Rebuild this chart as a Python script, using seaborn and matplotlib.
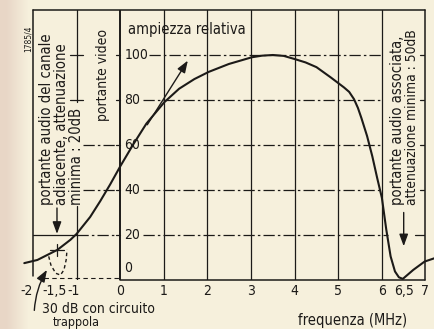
import numpy as np
import pandas as pd
import matplotlib
matplotlib.use("Agg")
import matplotlib.pyplot as plt
from matplotlib import font_manager
import seaborn as sns

# Video IF response: frequency (MHz) vs relative amplitude (%)
freq = [-2.2, -1.9, -1.44, -1.14, -1.0, -0.69, -0.46, -0.23, 0.0, 0.29, 0.60,
        1.01, 1.35, 1.7, 2.03, 2.49, 3.02, 3.25, 3.5, 3.75, 4.0, 4.25, 4.5,
        4.83, 5.13, 5.25, 5.36, 5.45, 5.53, 5.66, 5.78, 5.89, 6.0, 6.1, 6.2,
        6.3, 6.39, 6.48, 6.6, 6.72, 6.98, 7.21]
ampl = [7.5, 8.9, 13.4, 17.9, 20.5, 28.0, 35.0, 42.5, 50.5, 60.0, 69.5,
        79.0, 85.0, 89.3, 92.5, 96.0, 99.0, 99.7, 100.0, 99.6, 98.2, 96.7, 94.6,
        90.0, 85.6, 83.6, 80.4, 76.5, 72.0, 64.0, 55.0, 45.5, 36.5, 22.5, 10.5,
        3.8, 1.2, 0.5, 2.5, 4.5, 8.2, 9.7]

# notch obtained with the trap circuit (dashed)
trap_freq = [-1.64, -1.59, -1.48, -1.37, -1.29, -1.24, -1.22]
trap_ampl = [10.5, 6.7, 3.0, 2.2, 4.5, 8.9, 13.4]

x_ticks = [-2, -1.5, -1, 0, 1, 2, 3, 4, 5, 6, 6.5, 7]
x_labels = ["-2", "-1,5", "-1", "0", "1", "2", "3", "4", "5", "6", "6,5", "7"]
y_ticks = [0, 20, 40, 60, 80, 100]
y_labels = ["0", "20", "40", "60", "80", "100"]
v_grid = [1, 2, 3, 4, 5, 6]

INK = "#1c1a18"
PAPER = (246, 240, 220)

sns.set_theme(style="white")
names = {f.name for f in font_manager.fontManager.ttflist}
if "Liberation Sans Narrow" in names:
    FONT, STRETCH = "Liberation Sans Narrow", "normal"
else:
    FONT, STRETCH = "DejaVu Sans", "condensed"
plt.rcParams["font.family"] = [FONT, "DejaVu Sans"]
plt.rcParams["font.stretch"] = STRETCH

fig = plt.figure(figsize=(4.35, 3.29), dpi=100)

# paper tone, a little darker along the left edge
bg = fig.add_axes([0, 0, 1, 1], zorder=-10)
bg.axis("off")
cols = np.arange(435)
t = np.clip((cols - 6) / 22.0, 0, 1)[None, :, None]
left = np.array([232, 214, 198])[None, None, :]
right = np.array(PAPER)[None, None, :]
img = (left * (1 - t) + right * t) / 255.0
bg.imshow(np.repeat(img, 2, axis=0), aspect="auto", extent=[0, 1, 0, 1])

ax = fig.add_axes([33 / 435, 49 / 329, 392.5 / 435, 270 / 329])
ax.set_facecolor("none")
ax.set_xlim(-2, 7)
ax.set_ylim(0, 120)
for s in ax.spines.values():
    s.set_visible(False)
ax.set_xticks([])
ax.set_yticks([])

lw_frame = 1.1
lw_grid = 0.9
dash = (0, (9, 2.5, 2, 2.5))

# frame
ax.plot([-2, 7], [120, 120], color=INK, lw=lw_frame, clip_on=False)
ax.plot([7, 7], [0, 120], color=INK, lw=lw_frame, clip_on=False)
ax.plot([-2, -2], [2, 120], color=INK, lw=lw_frame, clip_on=False)
ax.plot([0, 7], [0, 0], color=INK, lw=lw_frame, clip_on=False)
ax.plot([-1.75, 0], [1, 1], color=INK, lw=0.8, ls=(0, (4, 3)), clip_on=False)

# amplitude axis
ax.plot([0, 0], [0, 120], color=INK, lw=1.4)
for v in y_ticks[1:]:
    ax.plot([-0.1, 0], [v, v], color=INK, lw=lw_grid)

# vertical grid
for xv in v_grid:
    ax.plot([xv, xv], [0, 120], color=INK, lw=lw_grid)
ax.plot([-1, -1], [0, 33], color=INK, lw=lw_grid)
ax.plot([-1, -1], [79, 120], color=INK, lw=lw_grid)

# horizontal grid segments (gaps left for the amplitude labels)
for v in [40, 60, 80, 100]:
    start = 0.66 if v == 100 else 0.52
    ax.plot([start, 6.0], [v, v], color=INK, lw=lw_grid, ls=dash)
    ax.plot([6.88, 7.0], [v, v], color=INK, lw=lw_grid)
for v in [40, 60]:
    ax.plot([-0.85, -0.1], [v, v], color=INK, lw=lw_grid, ls=dash)
for v in [80, 100]:
    ax.plot([-1.15, -0.85], [v, v], color=INK, lw=lw_grid)
ax.plot([-2, -1], [20, 20], color=INK, lw=lw_grid)
ax.plot([-1, -0.1], [20, 20], color=INK, lw=lw_grid, ls=dash)
ax.plot([0.52, 6.15], [20, 20], color=INK, lw=lw_grid, ls=dash)
ax.plot([6.75, 7.0], [20, 20], color=INK, lw=lw_grid)

# response curves
df = pd.DataFrame({"f": freq, "a": ampl})
sns.lineplot(data=df, x="f", y="a", sort=False, color=INK, lw=1.5,
             ax=ax, clip_on=False)
dft = pd.DataFrame({"f": trap_freq, "a": trap_ampl})
sns.lineplot(data=dft, x="f", y="a", sort=False, color=INK, lw=1.0,
             ls=(0, (2.5, 2)), ax=ax, clip_on=False)
ax.set_xlabel("")
ax.set_ylabel("")

# small cross at the adjacent-channel sound carrier
ax.plot([-1.45, -1.45], [10.5, 16], color=INK, lw=0.9)
ax.plot([-1.6, -1.3], [13.5, 13.5], color=INK, lw=0.9)

# tick labels
x_shift = {-2: -0.15, -1: -0.08}
for xv, lab in zip(x_ticks, x_labels):
    ax.text(xv + x_shift.get(xv, 0), -4.8, lab, ha="center", va="center",
            fontsize=10, color=INK, clip_on=False)
for v, lab in zip(y_ticks, y_labels):
    ax.text(0.1, v if v else 5.5, lab, ha="left", va="center",
            fontsize=10, color=INK)

# texts
tk = dict(color=INK, fontsize=10.6, rotation=90, ha="center", va="bottom")
ax.text(-1.7, 33.5, "portante audio del canale", **tk)
ax.text(-1.35, 33.5, "adiacente, attenuazione", **tk)
ax.text(-1.0, 33.5, "minima : 20dB", **tk)
ax.text(-0.39, 70.5, "portante video", **dict(tk, fontsize=10))
ax.text(6.36, 33.5, "portante audio associata,", **tk)
ax.text(6.69, 33.5, "attenuazione minima : 50dB", **dict(tk, fontsize=9.9))
ax.text(0.18, 111.5, "ampiezza relativa", color=INK, fontsize=10.5,
        ha="left", va="center")
ax.text(-2.1, 107, "1785/4", color=INK, fontsize=6, rotation=90,
        ha="center", va="center", clip_on=False)
ax.text(5.33, -18, "frequenza (MHz)", color=INK, fontsize=10.5,
        ha="center", va="center", clip_on=False)
ax.text(-1.8, -12.8, "30 dB con circuito", color=INK, fontsize=10,
        ha="left", va="center", clip_on=False)
ax.text(-1.55, -16.1, "trappola", color=INK, fontsize=9,
        ha="left", va="top", clip_on=False)

# arrows
arw = dict(arrowstyle="-|>,head_length=0.6,head_width=0.22", color=INK,
           lw=1.0, shrinkA=0, shrinkB=0)
ax.annotate("", xy=(-1.45, 20.5), xytext=(-1.45, 32), arrowprops=arw)
ax.annotate("", xy=(6.5, 15), xytext=(6.5, 30), arrowprops=arw)
ax.annotate("", xy=(1.55, 97.5), xytext=(0.62, 69), arrowprops=arw)
ax.annotate("", xy=(-1.68, 4.5), xytext=(-1.97, -13.5),
            arrowprops=dict(arw, connectionstyle="arc3,rad=-0.12"),
            annotation_clip=False)

fig.savefig("out.png", dpi=100, facecolor=fig.get_facecolor())
